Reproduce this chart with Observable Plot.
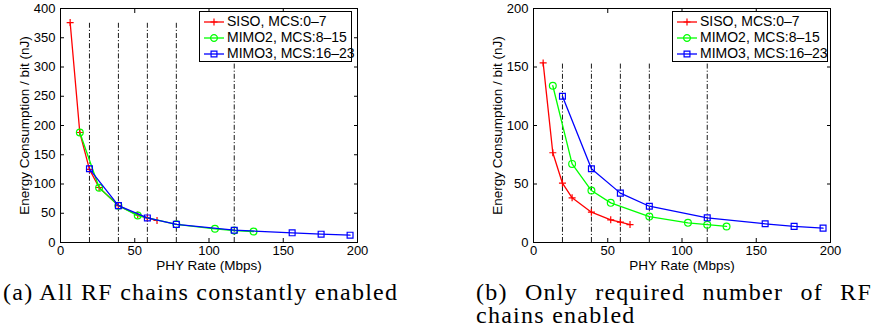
<!DOCTYPE html>
<html>
<head>
<meta charset="utf-8">
<script src="https://cdn.jsdelivr.net/npm/d3@7"></script>
<script src="https://cdn.jsdelivr.net/npm/@observablehq/plot@0.6"></script>
<style>
  html, body { margin: 0; padding: 0; background: #fff; }
  #root { position: relative; width: 873px; height: 333px; overflow: hidden; background: #fff; }
  .panel { position: absolute; top: 0; }
  .legend { position: absolute; top: 11px; height: 49px; border: 1px solid #000; background: #fff;
            font-family: "Liberation Sans", Arial, sans-serif; font-size: 14px; color: #000; }
  .legend .row { position: absolute; left: 0; height: 16px; white-space: nowrap; }
  .legend .row svg { position: absolute; left: 4px; top: 0; }
  .legend .row span { position: absolute; left: 27px; top: -1px; line-height: 16px; }
  .cap { position: absolute; font-family: "Liberation Serif", "Times New Roman", serif; font-size: 24px;
         line-height: 23px; color: #000; }
</style>
</head>
<body>
<div id="root"></div>
<script>
// ---- data ----
const xTicks = [0, 50, 100, 150, 200];
const yTicksA = [0, 50, 100, 150, 200, 250, 300, 350, 400];
const yTicksB = [0, 50, 100, 150, 200];
const guideRates = [19.5, 39, 58.5, 78, 117];

const rateSISO  = [6.5, 13, 19.5, 26, 39, 52, 58.5, 65];
const rateMIMO2 = [13, 26, 39, 52, 78, 104, 117, 130];
const rateMIMO3 = [19.5, 39, 58.5, 78, 117, 156, 175.5, 195];

// (a) all RF chains constantly enabled
const energyA_SISO  = [376, 188, 125, 94, 63, 47, 42, 37.6];
const energyA_MIMO2 = [188, 93.5, 63, 46, 31, 23.4, 20.5, 18.8];
const energyA_MIMO3 = [126, 63, 42, 31, 21, 16.5, 14.2, 12.5];

// (b) only required number of RF chains enabled
const energyB_SISO  = [153.5, 76.7, 50.7, 38.2, 25.9, 19.4, 17.4, 15.3];
const energyB_MIMO2 = [134, 67.2, 44.4, 33.9, 22.2, 16.8, 15.2, 13.7];
const energyB_MIMO3 = [125, 63, 42.2, 31, 21.1, 16, 13.8, 12.3];

const seriesNames = ["SISO, MCS:0\u20137", "MIMO2, MCS:8\u201315", "MIMO3, MCS:16\u201323"];
const seriesColors = ["#ff0000", "#00ff00", "#0000ff"];
const seriesSymbols = ["plus", "circle", "square"];
const seriesR = [2.4, 3.4, 3.3];

const xLabel = "PHY Rate (Mbps)";
const yLabel = "Energy Consumption / bit (nJ)";
const captionA = "(a) All RF chains constantly enabled";
const captionB = "(b) Only required number of RF chains enabled";

// ---- drawing ----
const root = document.getElementById("root");

function toRows(rates, vals) { return rates.map((r, i) => ({rate: r, e: vals[i]})); }

function panel(energies, yMax, yTicks, opts) {
  const sets = [toRows(rateSISO, energies[0]), toRows(rateMIMO2, energies[1]), toRows(rateMIMO3, energies[2])];
  const guideTop = d3.max(energies[0]);
  const marks = [
    Plot.ruleX(guideRates, {x: d => d, y1: 0, y2: guideTop, stroke: "#000", strokeWidth: 0.9, strokeDasharray: "5,2,1.2,2"})
  ];
  sets.forEach((rows, i) => {
    marks.push(Plot.line(rows, {x: "rate", y: "e", stroke: seriesColors[i], strokeWidth: 1.3}));
    marks.push(Plot.dot(rows, {x: "rate", y: "e", symbol: seriesSymbols[i], r: seriesR[i], stroke: seriesColors[i], fill: "none", strokeWidth: 1.2}));
  });
  marks.push(
    Plot.frame({stroke: "#000", strokeWidth: 1}),
    Plot.axisX(xTicks, {anchor: "bottom", tickSize: 0, tickPadding: 3, label: null}),
    Plot.axisY(yTicks, {anchor: "left", tickSize: 0, tickPadding: 5, label: null}),
    Plot.axisX(xTicks, {anchor: "bottom", tickSize: 4, dy: -4, tickFormat: () => "", label: null}),
    Plot.axisX(xTicks, {anchor: "top", tickSize: 4, dy: 4, tickFormat: () => "", label: null}),
    Plot.axisY(yTicks, {anchor: "left", tickSize: 4, dx: 4, tickFormat: () => "", label: null}),
    Plot.axisY(yTicks, {anchor: "right", tickSize: 4, dx: -4, tickFormat: () => "", label: null}),
    Plot.text([xLabel], {text: d => d, frameAnchor: "bottom", textAnchor: "middle", lineAnchor: "top", dy: 18, fontSize: 13.5}),
    Plot.text([yLabel], {text: d => d, frameAnchor: "left", textAnchor: "middle", lineAnchor: "top", rotate: -90, dx: -41, fontSize: 13.5})
  );
  const svg = Plot.plot({
    width: opts.width, height: 270,
    marginTop: 8, marginBottom: 28, marginLeft: opts.ml, marginRight: opts.mr,
    x: {domain: [0, 200]}, y: {domain: [0, yMax]},
    style: {fontFamily: "'Liberation Sans', Arial, sans-serif", fontSize: "13px", color: "#000", background: "transparent", overflow: "visible"},
    marks
  });
  const wrap = document.createElement("div");
  wrap.className = "panel";
  wrap.style.left = opts.left + "px";
  wrap.appendChild(svg);
  root.appendChild(wrap);
}

function legend(left, width) {
  const box = document.createElement("div");
  box.className = "legend";
  box.style.left = left + "px";
  box.style.width = width + "px";
  seriesNames.forEach((name, i) => {
    const row = document.createElement("div");
    row.className = "row";
    row.style.top = (2 + i * 16) + "px";
    const s = d3.create("svg").attr("width", 22).attr("height", 16);
    s.append("line").attr("x1", 0).attr("x2", 20).attr("y1", 8).attr("y2", 8)
      .attr("stroke", seriesColors[i]).attr("stroke-width", 1.3);
    const typ = {plus: d3.symbolPlus, circle: d3.symbolCircle, square: d3.symbolSquare}[seriesSymbols[i]];
    s.append("path").attr("transform", "translate(10,8)")
      .attr("d", d3.symbol(typ, Math.PI * seriesR[i] * seriesR[i])())
      .attr("fill", "none").attr("stroke", seriesColors[i]).attr("stroke-width", 1.2);
    row.appendChild(s.node());
    const t = document.createElement("span");
    t.textContent = name;
    row.appendChild(t);
    box.appendChild(row);
  });
  root.appendChild(box);
}

panel([energyA_SISO, energyA_MIMO2, energyA_MIMO3], 400, yTicksA, {left: 0, width: 437, ml: 60, mr: 80});
panel([energyB_SISO, energyB_MIMO2, energyB_MIMO3], 200, yTicksB, {left: 437, width: 436, ml: 96, mr: 43});
legend(199, 151);
legend(672, 154);

// captions
const ca = document.createElement("div");
ca.className = "cap";
ca.style.left = "3px"; ca.style.top = "281px"; ca.style.whiteSpace = "nowrap";
ca.textContent = captionA;
root.appendChild(ca);
const wA = ca.getBoundingClientRect().width;
const ls = Math.max(0, (394 - wA) / (captionA.length - 1));
ca.style.letterSpacing = ls + "px";

const cb = document.createElement("div");
cb.className = "cap";
cb.style.left = "476px"; cb.style.top = "281px"; cb.style.width = "396px";
cb.style.textAlign = "justify";
cb.style.letterSpacing = ls + "px";
cb.textContent = captionB;
root.appendChild(cb);
</script>
</body>
</html>
